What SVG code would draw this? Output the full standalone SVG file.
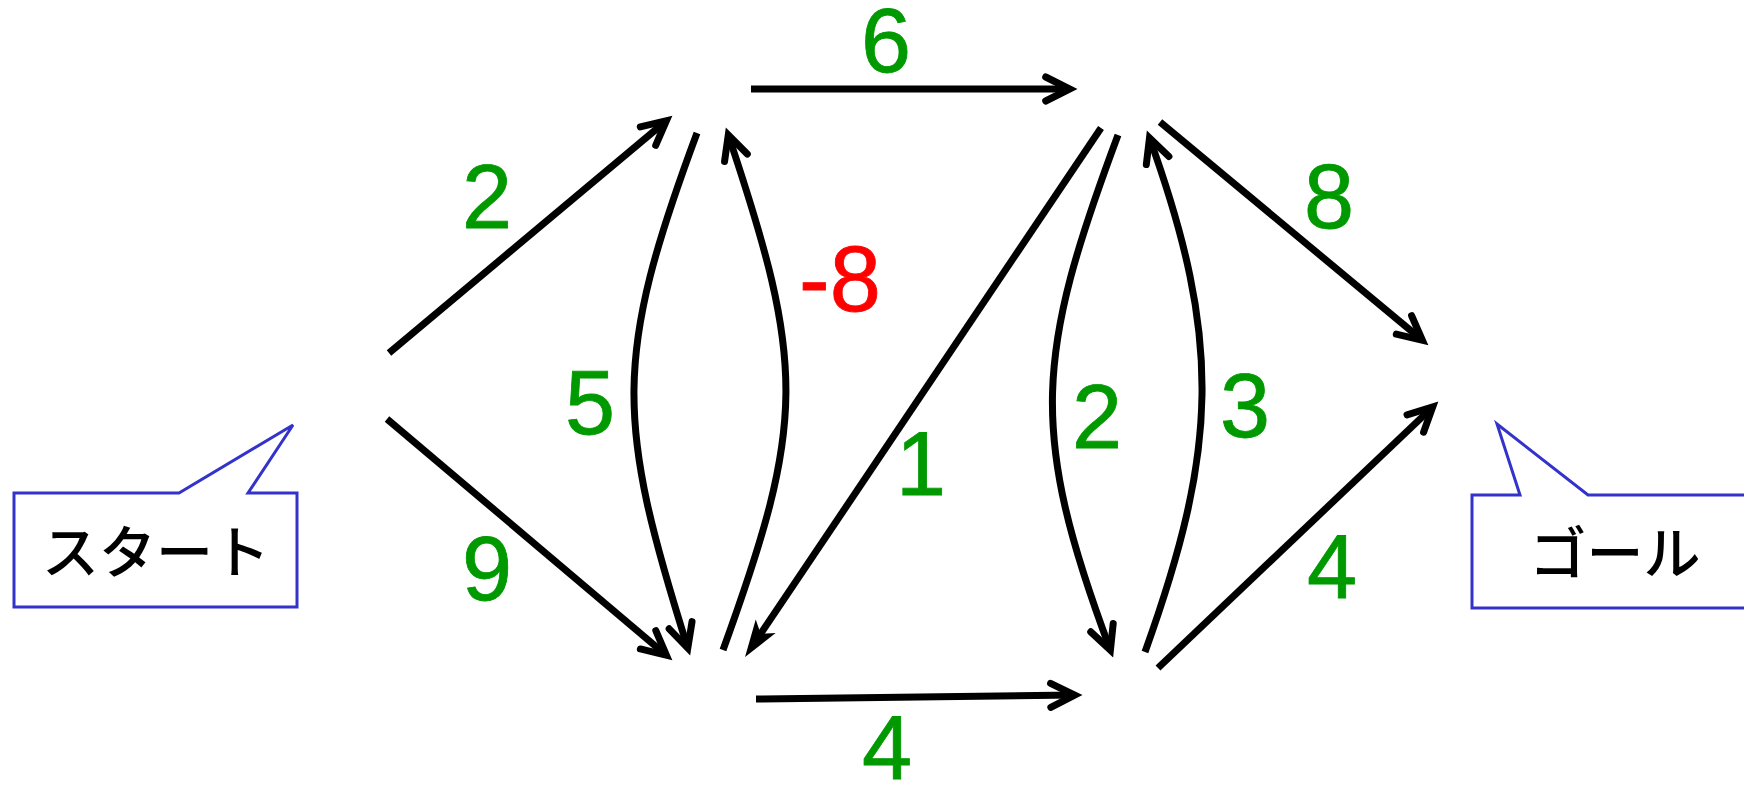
<svg xmlns="http://www.w3.org/2000/svg" width="1744" height="785" viewBox="0 0 1744 785">
<style>
.e{fill:none;stroke:#000;stroke-width:7;stroke-linecap:butt}
.w{font-family:"Liberation Sans",Arial,sans-serif;font-size:90px;fill:#009900;stroke:#009900;stroke-width:0.8;text-anchor:middle}
.neg{fill:#ff0000;stroke:#ff0000;font-size:92px}
.call{fill:#fff;stroke:#3333cc;stroke-width:3}
.jp{font-family:"Noto Sans CJK JP",sans-serif;font-size:57px;font-weight:500;fill:#000;text-anchor:middle}
</style>
<defs>
<marker id="ah" markerUnits="userSpaceOnUse" orient="auto" overflow="visible" markerWidth="1" markerHeight="1" refX="0" refY="0">
<path d="M-24,-12 L0,0 L-24,12" fill="none" stroke="#000" stroke-width="7" stroke-linecap="round" stroke-linejoin="miter"/>
</marker>
<marker id="barb" markerUnits="userSpaceOnUse" orient="auto" overflow="visible" markerWidth="1" markerHeight="1" refX="0" refY="0">
<path d="M20,0 L-17,-12 L-8,0 L-17,12 Z" fill="#000"/>
</marker>
</defs>
<rect width="1744" height="785" fill="#fff"/>
<g id="start">
<path class="call" d="M14,493 L179,493 L293,425 L248,493 L297,493 L297,607 L14,607 Z"/>
<text class="jp" x="156" y="573">スタート</text>
</g>
<g id="goal">
<path class="call" d="M1472,495 L1520,495 L1497,424 L1588,495 L1760,495 L1760,608 L1472,608 Z"/>
<text class="jp" x="1615" y="574">ゴール</text>
</g>
<g id="connectors">
<path class="e" marker-end="url(#ah)" d="M389,353 L666.4,120.7"/>
<path class="e" marker-end="url(#ah)" d="M387,419 L666.4,655.3"/>
<path class="e" marker-end="url(#ah)" d="M697,133 C613,359 616,420 687.8,648.1"/>
<path class="e" marker-end="url(#ah)" d="M723,650 C806,421 806,367 728.3,135"/>
<path class="e" marker-end="url(#ah)" d="M751,89 L1069.7,89"/>
<path class="e" marker-end="url(#ah)" d="M756,699 L1074.7,695.1"/>
<path class="e" marker-end="url(#barb)" d="M1101,128 L756.2,640.4"/>
<path class="e" marker-end="url(#ah)" d="M1118,135 C1036,355 1028,430 1110.4,650.1"/>
<path class="e" marker-end="url(#ah)" d="M1145,652 C1218,449 1222.5,341 1149.5,137.9"/>
<path class="e" marker-end="url(#ah)" d="M1160,122 L1422.4,340.3"/>
<path class="e" marker-end="url(#ah)" d="M1158,668 L1432.7,407"/>
</g>
<g id="labels">
<text class="w" x="886" y="72">6</text>
<text class="w" x="487" y="228">2</text>
<text class="w neg" x="840" y="311">-8</text>
<text class="w" x="590" y="434">5</text>
<text class="w" x="487" y="600">9</text>
<text class="w" x="921" y="495">1</text>
<text class="w" x="1097" y="448">2</text>
<text class="w" x="1245" y="437">3</text>
<text class="w" x="1329" y="228">8</text>
<text class="w" x="1332" y="598">4</text>
<text class="w" x="887" y="779">4</text>
</g>
</svg>
